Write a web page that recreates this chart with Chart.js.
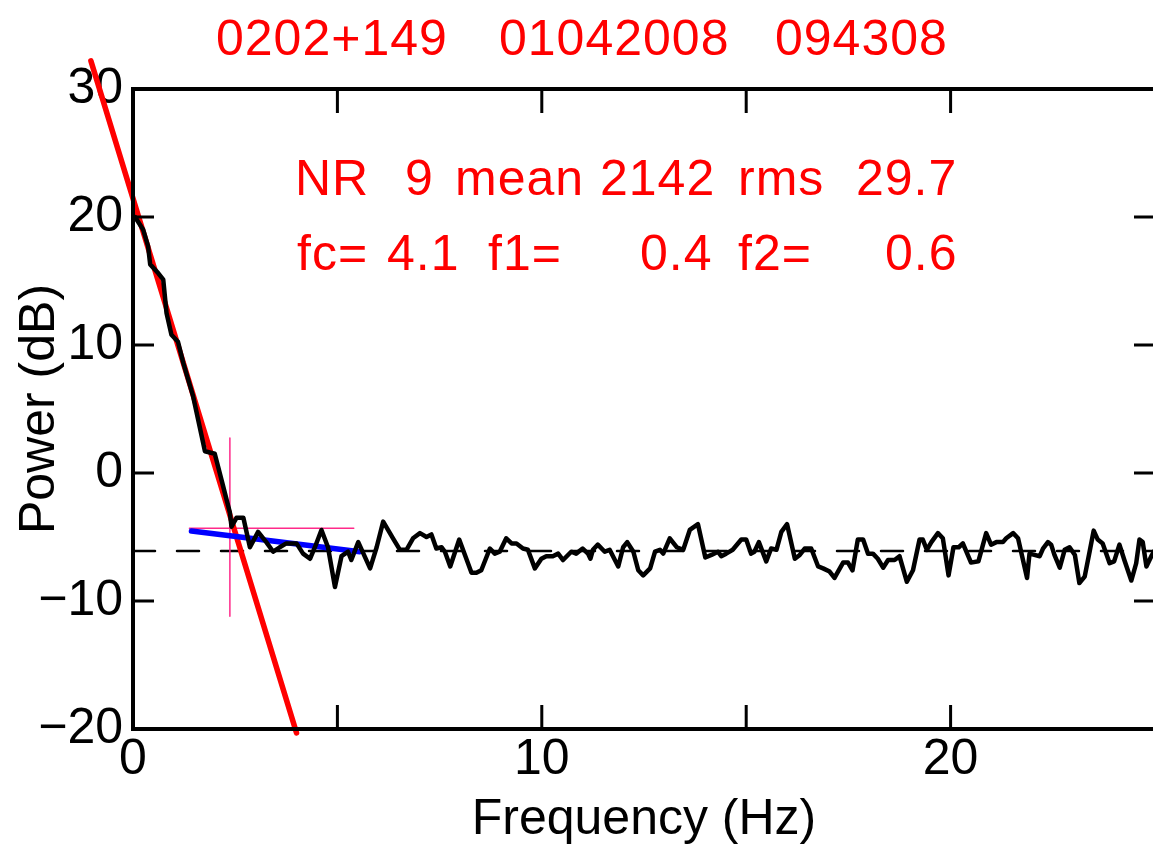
<!DOCTYPE html>
<html>
<head>
<meta charset="utf-8">
<script src="https://cdn.jsdelivr.net/npm/chart.js@4.4.1/dist/chart.umd.min.js"></script>
<style>
  html, body { margin: 0; padding: 0; background: #fff; overflow: hidden; }
  #wrap { width: 1153px; height: 845px; overflow: hidden; }
</style>
</head>
<body>
<div id="wrap"><canvas id="spectrum" width="1160" height="845"></canvas></div>
<script>
// spectrum (Hz, dB)
const freqHz = [
  0.05, 0.25, 0.37, 0.42, 0.62, 0.74, 0.82, 0.94, 1.1, 1.23, 1.47, 1.76, 2.0, 2.17, 2.37, 2.41,
  2.53, 2.7, 2.86, 3.06, 3.26, 3.43, 3.59, 3.75, 4.0, 4.16, 4.33, 4.45, 4.61, 4.77, 4.94, 5.1,
  5.26, 5.34, 5.51, 5.8, 5.96, 6.12, 6.36, 6.53, 6.69, 6.85, 7.02, 7.18, 7.3, 7.42, 7.55, 7.63,
  7.76, 7.98, 8.12, 8.28, 8.4, 8.52, 8.73, 8.85, 8.97, 9.13, 9.26, 9.38, 9.54, 9.66, 9.83, 9.99,
  10.11, 10.27, 10.4, 10.52, 10.72, 10.84, 11.0, 11.13, 11.19, 11.25, 11.37, 11.54, 11.66, 11.87,
  11.99, 12.09, 12.24, 12.36, 12.48, 12.65, 12.77, 12.89, 12.97, 13.13, 13.3, 13.46, 13.62, 13.82,
  14.0, 14.15, 14.31, 14.39, 14.51, 14.67, 14.88, 15.0, 15.12, 15.2, 15.31, 15.49, 15.61, 15.74,
  15.86, 16.0, 16.19, 16.31, 16.43, 16.59, 16.76, 16.88, 17.04, 17.16, 17.37, 17.49, 17.6, 17.73,
  17.86, 17.98, 18.1, 18.22, 18.35, 18.47, 18.63, 18.75, 18.93, 19.08, 19.24, 19.32, 19.42, 19.53,
  19.69, 19.81, 19.95, 20.07, 20.2, 20.3, 20.5, 20.68, 20.87, 20.99, 21.12, 21.28, 21.36, 21.53,
  21.65, 21.87, 21.93, 22.05, 22.18, 22.26, 22.38, 22.46, 22.54, 22.67, 22.79, 22.91, 23.04, 23.15,
  23.28, 23.4, 23.5, 23.6, 23.72, 23.89, 24.0, 24.13, 24.25, 24.42, 24.54, 24.62, 24.7, 24.79,
  24.91, 25.0
];
const powerDb = [
  20.0, 19.0, 17.7, 16.3, 15.6, 15.1, 12.5, 10.8, 10.25, 8.6, 6.0, 1.7, 1.5, -0.6, -3.1, -4.2,
  -3.5, -3.5, -5.8, -4.6, -5.4, -6.15, -5.8, -5.5, -5.5, -6.3, -6.7, -5.8, -4.45, -5.8, -8.9, -6.5,
  -6.15, -6.8, -5.4, -7.45, -5.8, -3.8, -5.1, -6.0, -6.0, -5.1, -4.7, -5.0, -4.8, -5.9, -5.8, -6.15,
  -7.3, -5.2, -6.4, -7.8, -7.8, -7.6, -5.9, -6.3, -6.15, -5.1, -5.5, -5.5, -5.9, -6.0, -7.45, -6.7,
  -6.5, -6.5, -6.3, -6.8, -6.15, -6.3, -5.9, -6.3, -6.7, -6.0, -5.6, -6.15, -6.0, -7.3,
  -5.8, -5.4, -6.15, -7.6, -8.0, -7.45, -6.15, -6.0, -6.3, -5.1, -5.8, -6.0, -4.45, -4.0,
  -6.6, -6.4, -6.15, -6.5, -6.3, -6.0, -5.2, -5.2, -6.3, -6.15, -5.4, -6.9, -5.9, -6.0,
  -4.6, -4.0, -6.7, -6.4, -5.9, -5.9, -7.3, -7.45, -7.7, -8.2, -7.0, -7.0, -7.6, -5.2,
  -5.2, -6.3, -6.3, -6.7, -7.4, -6.8, -6.8, -6.5, -8.5, -7.6, -5.2, -5.2, -6.0, -5.4,
  -4.7, -5.1, -8.0, -5.8, -5.8, -5.5, -7.0, -6.9, -4.7, -5.6, -5.4, -5.4, -5.1, -4.7,
  -5.1, -8.2, -6.3, -6.4, -6.5, -5.9, -5.4, -5.6, -6.4, -7.4, -6.0, -5.8, -6.4, -8.6,
  -8.1, -6.15, -4.5, -5.2, -5.5, -7.05, -6.9, -5.6, -6.8, -8.4, -7.05, -5.2, -5.4, -7.3,
  -6.5, -6.0
];

// fits and markers
const meanLevelDb = -6.1;
const redFitHz = [-1.03, 4.0];
const redFitDb = [32.2, -20.3];
const blueFitHz = [1.43, 5.55];
const blueFitDb = [-4.53, -6.15];
const crossHz = 2.37;
const crossDb = -4.32;
const crossHzSpan = [1.38, 5.4];
const crossDbSpan = [2.73, -11.2];

const xTicks = [0, 5, 10, 15, 20, 25];
const yTicks = [-20, -10, 0, 10, 20, 30];

const titleParts = ['0202+149', '01042008', '094308'];
const infoLine1 = ['NR', '9', 'mean', '2142', 'rms', '29.7'];
const infoLine2 = ['fc=', '4.1', 'f1=', '0.4', 'f2=', '0.6'];

const FONT = '"Liberation Sans", Arial, sans-serif';

const pts = (xs, ys) => xs.map((x, i) => ({ x: x, y: ys[i] }));

const framePlugin = {
  id: 'frame',
  afterDraw(chart) {
    const ctx = chart.ctx;
    const a = chart.chartArea;
    const xs = chart.scales.x, ys = chart.scales.y;
    ctx.save();
    ctx.strokeStyle = '#000';
    ctx.lineWidth = 4;
    ctx.strokeRect(a.left, a.top, a.right - a.left, a.bottom - a.top);
    ctx.lineWidth = 3;
    ctx.beginPath();
    xTicks.forEach(v => {
      const px = xs.getPixelForValue(v);
      ctx.moveTo(px, a.bottom); ctx.lineTo(px, a.bottom - 24);
      ctx.moveTo(px, a.top); ctx.lineTo(px, a.top + 24);
    });
    yTicks.forEach(v => {
      const py = ys.getPixelForValue(v);
      ctx.moveTo(a.left, py); ctx.lineTo(a.left + 21, py);
      ctx.moveTo(a.right, py); ctx.lineTo(a.right - 21, py);
    });
    ctx.stroke();

    ctx.fillStyle = '#ff0000';
    ctx.font = '50px ' + FONT;
    ctx.letterSpacing = '1px';
    ctx.textBaseline = 'alphabetic';
    ctx.textAlign = 'left';
    [216, 499, 775].forEach((x, i) => ctx.fillText(titleParts[i], x, 55));
    [295, 405, 455, 600, 738, 856].forEach((x, i) => ctx.fillText(infoLine1[i], x, 195));
    [297, 387, 488, 640, 738, 885].forEach((x, i) => ctx.fillText(infoLine2[i], x, 270));
    ctx.restore();
  }
};

const fmt = v => (v < 0 ? '\u2212' + Math.abs(v) : String(v));

new Chart(document.getElementById('spectrum'), {
  type: 'line',
  data: {
    datasets: [
      { data: pts(freqHz, powerDb), borderColor: '#000', borderWidth: 4.5 },
      { data: pts(blueFitHz, blueFitDb), borderColor: '#0000ff', borderWidth: 5.5 },
      { data: pts(redFitHz, redFitDb), borderColor: '#ff0000', borderWidth: 5.5, clip: false },
      { data: pts([crossHz, crossHz], crossDbSpan), borderColor: '#ff2a8a', borderWidth: 1.5 },
      { data: pts(crossHzSpan, [crossDb, crossDb]), borderColor: '#ff2a8a', borderWidth: 1.5 },
      { data: pts([0, 25], [meanLevelDb, meanLevelDb]), borderColor: '#000', borderWidth: 2.5, borderDash: [22, 22] }
    ]
  },
  options: {
    responsive: false,
    animation: false,
    events: [],
    elements: { point: { radius: 0 }, line: { tension: 0, borderJoinStyle: 'round', borderCapStyle: 'round' } },
    layout: { padding: { top: 89, right: 5, left: 0, bottom: 0 } },
    plugins: { legend: { display: false }, tooltip: { enabled: false } },
    scales: {
      x: {
        type: 'linear', min: 0, max: 25,
        grid: { display: false }, border: { display: false },
        afterFit: s => { s.height = 116; },
        ticks: {
          stepSize: 5, padding: -7, color: '#000', maxRotation: 0, autoSkip: false,
          font: { family: FONT, size: 50 },
          callback: v => (v % 10 === 0 ? fmt(v) : '')
        },
        title: {
          display: true, text: 'Frequency (Hz)', color: '#000',
          font: { family: FONT, size: 50, lineHeight: 1 }, padding: 0
        }
      },
      y: {
        min: -20, max: 30,
        grid: { display: false }, border: { display: false },
        afterFit: s => { s.width = 133; },
        ticks: {
          stepSize: 10, padding: 2, color: '#000',
          font: { family: FONT, size: 50 },
          callback: v => fmt(v)
        },
        title: {
          display: true, text: 'Power (dB)', color: '#000',
          font: { family: FONT, size: 50, lineHeight: 1 }, padding: { top: 15, bottom: 0 }
        }
      }
    }
  },
  plugins: [framePlugin]
});
</script>
</body>
</html>
